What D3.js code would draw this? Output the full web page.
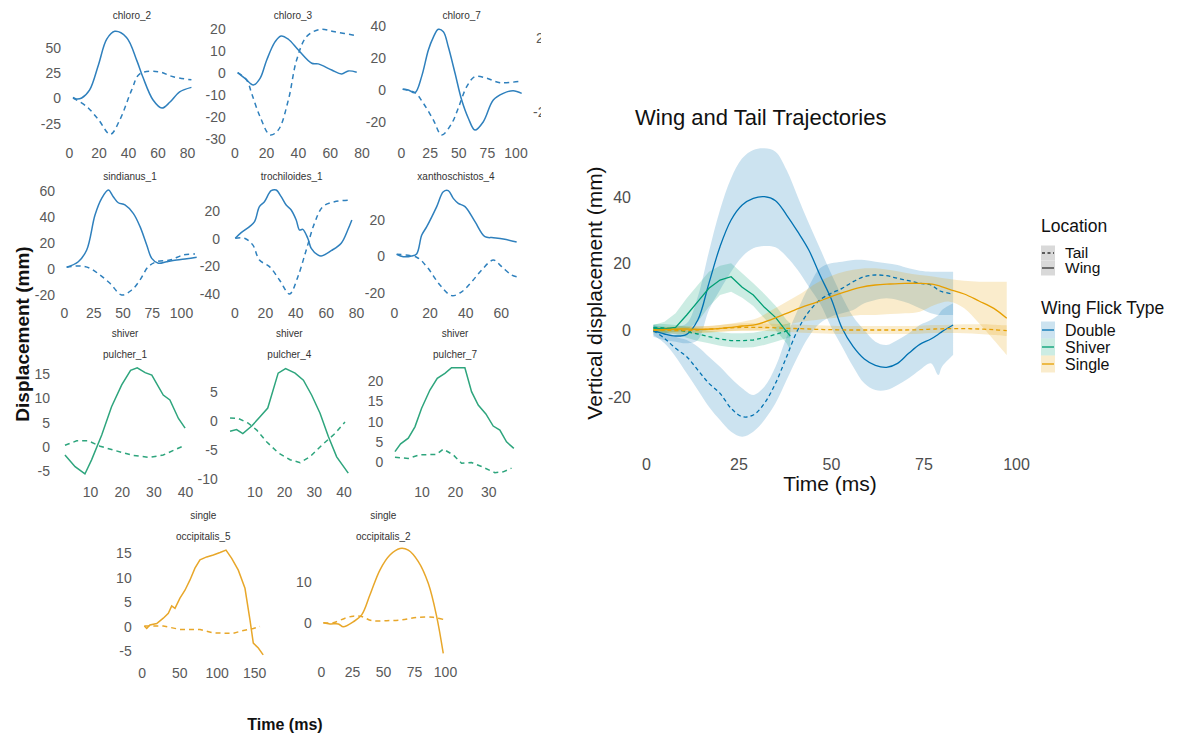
<!DOCTYPE html>
<html>
<head>
<meta charset="utf-8">
<script src="https://cdn.jsdelivr.net/npm/d3@7"></script>
<style>
body { margin: 0; background: #fff; }
svg { font-family: "Liberation Sans", Arial, sans-serif; }
</style>
</head>
<body>
<svg id="drawing_region" width="1183" height="736"></svg>
<script>
// ---- small multiples: [time (ms), displacement (mm)] ----
const chloro_2_wing = [[2.7,0.5],[5,-1],[8.6,0],[14,8],[20,33],[25.5,58],[31,66],[39,60],[46,37],[50,21],[57,-2],[63,-10],[68.5,-4],[75,6],[83,10.5]]
const chloro_2_tail = [[2.7,0],[12,-8.5],[20,-21.5],[28,-36],[34.5,-21.5],[42.5,8],[48,24],[60.5,26],[70.7,21],[83,18]]
const chloro_3_wing = [[2.1,0],[6.7,-2.6],[12,-5.6],[16.2,-2.6],[20.4,5.8],[25.6,14],[29.4,16.7],[34,15.2],[40.3,10.3],[48.7,4.3],[52.8,4],[61.3,1.2],[67.5,-0.6],[71.7,0.8],[77,0.2]]
const chloro_3_tail = [[2.1,0],[7.8,-3.3],[10.9,-9.4],[16.2,-20],[22.5,-28.3],[27.7,-26],[34,-12.4],[39.2,5.8],[45.5,16.4],[53.9,19.7],[63.3,18.6],[77,16.8]]
const chloro_7_wing = [[1.5,0],[6.4,-0.4],[12.2,-2.1],[18,7.9],[23.9,24.5],[28.2,32.4],[32.6,37.4],[37,35.9],[41.3,26.5],[47.2,10],[53,-6.7],[58.8,-18],[64.6,-25.4],[71.9,-20.2],[80.6,-6.7],[89.3,-2.5],[98,-0.9],[105.4,-2.5]]
const chloro_7_tail = [[1.5,0],[12.2,-2.1],[19.5,-8.7],[28.2,-19],[35.5,-28.4],[44.3,-21.2],[50,-11.8],[57.4,1.6],[64.6,7.9],[74.8,6.9],[86.5,4.1],[105.4,5.2]]
const sindianus_1_wing = [[2.3,0.8],[12.2,5.1],[19.4,14.2],[26.5,41.2],[32.2,54.1],[37.9,60.6],[42.1,55.4],[46.4,50.7],[52.1,49],[59.2,42.5],[65,32.2],[70.7,18],[75,7.7],[80.6,3.9],[87.8,5.1],[96.3,6.4],[104.9,7.4],[113.4,8.5]]
const sindianus_1_tail = [[2.3,0.8],[13.7,1.8],[22.2,0],[30.8,-5.2],[39.3,-11.6],[49.3,-20.6],[57.9,-16.8],[65,-9],[72,1.2],[79.2,5.1],[90.6,6.4],[102,10.3],[112,11]]
const trochiloides_1_wing = [[0.5,0],[4.4,4.1],[9.9,8.5],[13.2,12.1],[16.4,23],[19.7,26.6],[24.1,34.6],[27.4,35.1],[30.7,30.3],[34,24.2],[37.3,20.6],[40.6,13.3],[42.8,6],[44.9,6.5],[48.2,0],[50.5,-7.3],[54.8,-12.1],[57,-12.9],[63.6,-9],[70.2,-3.6],[74.5,6],[77.2,13.3]]
const trochiloides_1_tail = [[0.5,0],[6.6,0],[12,-4.8],[16.4,-15.8],[23,-20.6],[29.6,-30.3],[36.2,-40.5],[41.7,-27.9],[47.2,-8.5],[52.6,10.9],[58.1,23],[65.8,26.6],[76.8,27.9]]
const xanthoschistos_4_wing = [[1.5,0.9],[5.2,-0.4],[9.9,0],[12.7,1.1],[15.6,11.4],[18.4,16],[24,26.9],[27.7,35],[30.5,35.6],[33.3,31.4],[36.1,28.7],[39.9,26.9],[45.5,18.7],[51.1,10.5],[55.8,10],[61.4,9.3],[68.9,7.6]]
const xanthoschistos_4_tail = [[1.5,0.9],[12.7,-0.7],[18.4,-5.8],[25.8,-15.8],[32.4,-21.6],[38,-19.5],[43.7,-14],[49.3,-7.6],[55.8,-2.2],[60.5,-5.8],[66.1,-10.4],[68.9,-11.3]]
const pulcher_1_wing = [[2.1,-1.7],[5.3,-4.1],[8.4,-5.6],[10.5,-2.7],[13.7,2.4],[16.8,8.2],[20,12.7],[22.8,15.7],[24.9,16.2],[27.4,15.2],[29.5,14.7],[33.1,10.6],[35.2,9.6],[37.9,5.8],[40,3.8]]
const pulcher_1_tail = [[2.1,0.3],[5.8,1.2],[9.5,1.2],[13.2,0.1],[17.4,-0.7],[23.7,-1.8],[28.9,-2.2],[33.1,-1.7],[40,0.3]]
const pulcher_4_wing = [[1.8,-1.8],[4,-1.5],[6.1,-2.2],[9.1,-0.9],[11.9,0.7],[14.5,2.2],[18,8.2],[20.5,9],[23.7,8.2],[26.5,7],[29.3,4.4],[32.1,1.3],[34.9,-2.7],[37.7,-6.2],[41.6,-9]]
const pulcher_4_tail = [[1.8,0.5],[4.6,0.4],[7.9,-0.4],[10.8,-1.6],[14.1,-3.6],[18,-5.5],[22,-6.7],[25.4,-7.2],[28.7,-6.2],[32.7,-4.2],[37.1,-2.2],[40.5,-0.2]]
const pulcher_7_wing = [[2,2.5],[3.7,4.4],[6,5.8],[8,8.6],[10,13.2],[12.5,17.7],[14.7,20.6],[17,21.8],[19,23.2],[23,23.2],[25,17.3],[27,14],[29.3,11.8],[31.5,8.8],[33.5,7.8],[35.5,4.9],[37.7,3.3]]
const pulcher_7_tail = [[2,1.1],[6,0.8],[9.5,1.7],[14.5,1.8],[16.5,3.1],[19.5,1.7],[22,-0.4],[25,-0.2],[28,-1.2],[32,-2.7],[34.5,-2.5],[37,-1.6]]
const occipitalis_5_wing = [[3.5,0.1],[6.7,-0.4],[11,0.3],[20,0.6],[28.8,1.7],[35.5,2.7],[40,4.2],[44.4,3.7],[51,5.8],[57.7,7.4],[64.4,9.5],[71,11.9],[77.7,13.6],[86.7,14.2],[95.5,14.6],[104.4,15.1],[112.4,15.6],[120,13.9],[128.8,11.5],[137.7,7.8],[144.4,1.3],[148.8,-3.4],[155.5,-4.4],[162,-5.8]]
const occipitalis_5_tail = [[3.5,0.1],[28.8,0.1],[51,-0.6],[77.7,-0.6],[95.5,-1.3],[122,-1.4],[133.3,-0.9],[148.8,-0.4],[157.7,0]]
const occipitalis_2_wing = [[1.9,0],[7.3,-0.3],[14,-0.3],[18,-1],[26,0.2],[32.8,1.9],[39.5,6.8],[47.6,12.9],[55.6,16.5],[63.7,18.1],[70.4,17.7],[78.5,14.9],[86.5,9.6],[93.3,1.5],[98.6,-7.5]]
const occipitalis_2_tail = [[1.9,0],[9.9,0],[19.4,1.1],[26,1.6],[32.8,1.5],[40.9,0.5],[53,0.5],[65.1,0.7],[77.2,1.3],[90.6,1.3],[98.6,0.8]]

// ---- summary chart: mean and ribbon per wing flick type ----
const double_time = [2,5,8,11,14,17,20,23,26,29,32,35,38,41,44,47,50,53,56,59,62,65,68,71,74,77,79,80,83]
const double_wing = [-0.2,-1.2,-1.8,-1.3,3,14,25,33,37.5,39.5,40,38.8,34.5,29.5,24,16.5,9.5,0.5,-5,-8.7,-10.6,-11.2,-10,-7,-4.3,-2.7,-1.3,-0.5,1.5]
const double_wing_hi = [1.5,1,1,2,10,23.5,36,45.5,51.5,54,54.5,53.5,48,40,32,24.5,17,10,4,0,-3.5,-4.5,-3,-1,1.5,3,4.5,6,8]
const double_wing_lo = [-2,-3,-3.5,-4,-3,6,12,17.5,22,24.5,25.2,24.8,22,18,13,8,1,-5,-11,-16,-18,-18,-16.5,-14.5,-12,-10,-13.5,-11,-7.5]
const double_tail = [-0.2,-2.5,-5.5,-8,-12,-16,-19,-23.5,-26,-25.5,-22,-16,-8,0,5.5,9,11,12.5,14.5,16,16.5,16.3,15.5,14.8,14,13.5,12,11.5,10.8]
const double_tail_hi = [1.5,0,-2,-3,-5,-8,-11,-14.5,-17.5,-19.5,-17,-11,-2,6,13,18.5,20,20.5,21,21,20.5,20,19.5,18.5,17.8,17.5,17.5,17.5,17.5]
const double_tail_lo = [-1.5,-4,-8,-13,-18,-23,-27,-30.5,-32,-30.5,-27,-22,-15,-8,-2,2,4,5,6,8,9,9.5,9,8,6.5,5,4.5,4.5,4.5]

const shiver_time = [2,5,8,11,14,17,20,23,26,29,32,35,38,39]
const shiver_wing = [0.5,0.3,0.8,4.5,8.5,12.5,15,16,12.8,10.5,6.8,3.8,-0.5,-1.8]
const shiver_wing_hi = [1.5,2.5,5,9.5,13.5,17.5,19.3,20,17,14,10.8,7.3,3,2]
const shiver_wing_lo = [-1,-1,-0.5,0,2.5,7,10.5,11.5,9.7,7.2,3.5,0,-4,-6]
const shiver_tail = [0.8,0.6,0.2,-0.5,-1.2,-2,-2.7,-3.2,-3.2,-3,-2.3,-1.3,-0.3,0]
const shiver_tail_hi = [1.8,1.8,1.5,1,0.5,-0.2,-0.7,-1,-1,-0.8,-0.2,0.8,1.8,2.2]
const shiver_tail_lo = [-0.5,-0.8,-1.3,-2.3,-3.3,-4,-4.7,-5.2,-5.3,-5.2,-4.5,-3.5,-2.5,-2.2]

const single_time = [2,6,10,14,18,22,26,30,34,38,42,46,50,54,58,62,66,70,74,78,82,86,90,94,97.5]
const single_wing = [0,0.2,0.3,0.2,0.3,0.7,1.2,1.7,3.2,5,6.8,8.3,10,11.5,12.8,13.5,13.8,14,14,13.6,12.2,10.8,8.7,6.5,3.5]
const single_wing_hi = [0.8,1,1.2,1.2,1.3,1.8,2.5,3.5,6,8.5,11,14,16.2,17.6,18.4,18.5,18,17.2,16.5,16,15.3,14.8,14.5,14.5,14.5]
const single_wing_lo = [-0.8,-0.6,-0.6,-0.8,-0.7,-0.4,-0.1,0,0.5,1.5,2.5,3,3.5,4,4.5,4.5,4.8,5,5.5,7.5,8.5,6.5,2,-3,-7.5]
const single_tail = [0,-0.1,-0.2,0,0.3,0.6,0.8,0.8,0.7,0.5,0.4,0.2,0.1,0,0,0,0,0,0.1,0.3,0.4,0.4,0.3,0.1,-0.2]
const single_tail_hi = [0.8,0.8,0.8,1,1.3,1.7,2,2,1.9,1.7,1.6,1.4,1.3,1.2,1.2,1.2,1.2,1.2,1.3,1.5,1.6,1.7,1.7,1.6,1.4]
const single_tail_lo = [-0.8,-1,-1.2,-1,-0.7,-0.4,-0.3,-0.3,-0.4,-0.6,-0.8,-1,-1.1,-1.2,-1.2,-1.2,-1.2,-1.2,-1.1,-0.9,-0.9,-1,-1.2,-1.5,-1.8]

const flick_types = ['Double', 'Shiver', 'Single']
const locations = ['Tail', 'Wing']
const main_x_ticks = [0, 25, 50, 75, 100]
const main_y_ticks = [-20, 0, 20, 40]

const svg = d3.select('#drawing_region')

class SmallPanel{
    constructor(config, wing, tail){
        this.config = config
        this.wing = wing
        this.tail = tail
        this.init()
    }

    init(){
        let self = this
        let c = self.config
        self.chart = svg.append('g')
        self.x = d3.scaleLinear().domain([0, 100]).range([c.x0, c.x0 + 100 * c.xk])
        self.y = d3.scaleLinear().domain([0, 10]).range([c.y0, c.y0 - 10 * c.yk])
        self.line = d3.line()
            .x(d => self.x(d[0]))
            .y(d => self.y(d[1]))
            .curve(c.curve || d3.curveCatmullRom)
    }

    render(){
        let self = this
        let c = self.config

        self.chart.append('g')
            .attr('transform', `translate(0,${c.xLabelY})`)
            .call(d3.axisBottom(self.x).tickValues(c.xTicks).tickSize(0).tickPadding(0).tickFormat(d => d))
            .call(g => g.select('.domain').remove())
            .attr('font-family', null).attr('font-size', null)
            .selectAll('text')
            .attr('y', 0).attr('dy', '0.35em')
            .attr('font-size', 14).attr('fill', '#595959')

        self.chart.append('g')
            .attr('transform', `translate(${c.yLabelX},0)`)
            .call(d3.axisLeft(self.y).tickValues(c.yTicks).tickSize(0).tickPadding(0).tickFormat(d => d))
            .call(g => g.select('.domain').remove())
            .attr('font-family', null).attr('font-size', null)
            .selectAll('text')
            .attr('x', 0).attr('dy', '0.35em')
            .attr('font-size', 14).attr('fill', '#595959')

        c.titles.forEach((t, i) => {
            self.chart.append('text')
                .attr('x', c.titleX)
                .attr('y', c.titleY[i])
                .attr('text-anchor', 'middle')
                .attr('dy', '0.35em')
                .attr('font-size', 10)
                .attr('fill', '#333')
                .text(t)
        })

        self.chart.append('path')
            .attr('d', self.line(self.tail))
            .attr('fill', 'none')
            .attr('stroke', c.color)
            .attr('stroke-width', 1.5)
            .attr('stroke-dasharray', '5,4')

        self.chart.append('path')
            .attr('d', self.line(self.wing))
            .attr('fill', 'none')
            .attr('stroke', c.color)
            .attr('stroke-width', 1.5)
    }
}

class TrajectoryChart{
    constructor(config, series){
        this.config = config
        this.series = series
        this.init()
    }

    init(){
        let self = this
        let c = self.config
        self.chart = svg.append('g')
        self.x = d3.scaleLinear().domain([0, 100]).range([c.x0, c.x0 + 100 * c.xk])
        self.y = d3.scaleLinear().domain([0, 10]).range([c.y0, c.y0 - 10 * c.yk])
    }

    render(){
        let self = this
        let c = self.config

        self.chart.append('text')
            .attr('x', 635).attr('y', 117)
            .attr('dy', '0.35em')
            .attr('font-size', 22)
            .attr('fill', '#111')
            .text('Wing and Tail Trajectories')

        // ribbons
        self.series.forEach(s => {
            ['wing', 'tail'].forEach(part => {
                const area = d3.area()
                    .x((d, i) => self.x(s.time[i]))
                    .y0(d => self.y(d[0]))
                    .y1(d => self.y(d[1]))
                    .curve(s.curve)
                const pts = s[part + '_lo'].map((v, i) => [v, s[part + '_hi'][i]])
                self.chart.append('path')
                    .attr('d', area(pts))
                    .attr('fill', s.color)
                    .attr('fill-opacity', 0.2)
            })
        })

        // mean lines
        self.series.forEach(s => {
            ['tail', 'wing'].forEach(part => {
                const line = d3.line()
                    .x((d, i) => self.x(s.time[i]))
                    .y(d => self.y(d))
                    .curve(s.curve)
                self.chart.append('path')
                    .attr('d', line(s[part]))
                    .attr('fill', 'none')
                    .attr('stroke', s.color)
                    .attr('stroke-width', 1.3)
                    .attr('stroke-dasharray', part == 'tail' ? '4,3' : null)
            })
        })

        self.chart.append('g')
            .attr('transform', `translate(0,${c.xLabelY})`)
            .call(d3.axisBottom(self.x).tickValues(main_x_ticks).tickSize(0).tickPadding(0).tickFormat(d => d))
            .call(g => g.select('.domain').remove())
            .attr('font-family', null).attr('font-size', null)
            .selectAll('text')
            .attr('y', 0).attr('dy', '0.35em')
            .attr('font-size', 16).attr('fill', '#4d4d4d')

        self.chart.append('g')
            .attr('transform', `translate(${c.yLabelX},0)`)
            .call(d3.axisLeft(self.y).tickValues(main_y_ticks).tickSize(0).tickPadding(0).tickFormat(d => d))
            .call(g => g.select('.domain').remove())
            .attr('font-family', null).attr('font-size', null)
            .selectAll('text')
            .attr('x', 0).attr('dy', '0.35em')
            .attr('font-size', 16).attr('fill', '#4d4d4d')

        self.chart.append('text')
            .attr('x', 830).attr('y', 484)
            .attr('text-anchor', 'middle').attr('dy', '0.35em')
            .attr('font-size', 21).attr('fill', '#111')
            .text('Time (ms)')

        self.chart.append('text')
            .attr('transform', 'translate(595,293) rotate(-90)')
            .attr('text-anchor', 'middle').attr('dy', '0.35em')
            .attr('font-size', 21).attr('fill', '#111')
            .text('Vertical displacement (mm)')

        self.legend()
    }

    legend(){
        let self = this
        const lg = self.chart.append('g')

        lg.append('text').attr('x', 1041).attr('y', 226).attr('dy', '0.35em')
            .attr('font-size', 17.5).attr('fill', '#111').text('Location')

        locations.forEach((name, i) => {
            const cy = 253 + i * 15
            lg.append('rect').attr('x', 1041).attr('y', cy - 7.5).attr('width', 14).attr('height', 15)
                .attr('fill', '#d9d9d9')
            lg.append('line').attr('x1', 1042).attr('x2', 1054).attr('y1', cy).attr('y2', cy)
                .attr('stroke', '#333').attr('stroke-width', 1.3)
                .attr('stroke-dasharray', name == 'Tail' ? '3,2.5' : null)
            lg.append('text').attr('x', 1065).attr('y', cy).attr('dy', '0.35em')
                .attr('font-size', 15.5).attr('fill', '#111').text(name)
        })

        lg.append('text').attr('x', 1041).attr('y', 308).attr('dy', '0.35em')
            .attr('font-size', 17.5).attr('fill', '#111').text('Wing Flick Type')

        flick_types.forEach((name, i) => {
            const cy = 330 + i * 17
            const col = self.series[i].color
            lg.append('rect').attr('x', 1041).attr('y', cy - 8.5).attr('width', 14).attr('height', 17)
                .attr('fill', col).attr('fill-opacity', 0.2)
            lg.append('line').attr('x1', 1042).attr('x2', 1054).attr('y1', cy).attr('y2', cy)
                .attr('stroke', col).attr('stroke-width', 1.3)
            lg.append('text').attr('x', 1065).attr('y', cy).attr('dy', '0.35em')
                .attr('font-size', 16).attr('fill', '#111').text(name)
        })
    }
}

svg.append('defs').append('clipPath').attr('id', 'left_clip')
    .append('rect').attr('x', 0).attr('y', 0).attr('width', 541).attr('height', 736)

const blue = '#2f80bd', green = '#2ea57d', orange = '#e8a72a'

const panels = [
    [{titles: ['chloro_2'], titleX: 132, titleY: [15], x0: 69, xk: 1.475, y0: 98, yk: 1.01, xTicks: [0,20,40,60,80], yTicks: [-25,0,25,50], yLabelX: 61, xLabelY: 153, color: blue}, chloro_2_wing, chloro_2_tail],
    [{titles: ['chloro_3'], titleX: 293, titleY: [15], x0: 234.3, xk: 1.59, y0: 72.7, yk: 2.2, xTicks: [0,20,40,60,80], yTicks: [-30,-20,-10,0,10,20], yLabelX: 225.7, xLabelY: 153, color: blue}, chloro_3_wing, chloro_3_tail],
    [{titles: ['chloro_7'], titleX: 461.7, titleY: [15], x0: 401, xk: 1.145, y0: 89.3, yk: 1.605, xTicks: [0,25,50,75,100], yTicks: [-20,0,20,40], yLabelX: 386, xLabelY: 153, color: blue}, chloro_7_wing, chloro_7_tail],
    [{titles: ['sindianus_1'], titleX: 130, titleY: [176.7], x0: 64, xk: 1.17, y0: 268.3, yk: 1.293, xTicks: [0,25,50,75,100], yTicks: [-20,0,20,40,60], yLabelX: 55, xLabelY: 313.3, color: blue}, sindianus_1_wing, sindianus_1_tail],
    [{titles: ['trochiloides_1'], titleX: 291.7, titleY: [176.7], x0: 234.5, xk: 1.52, y0: 238.3, yk: 1.375, xTicks: [0,20,40,60,80], yTicks: [-40,-20,0,20], yLabelX: 220, xLabelY: 313.3, color: blue}, trochiloides_1_wing, trochiloides_1_tail],
    [{titles: ['xanthoschistos_4'], titleX: 456, titleY: [176.7], x0: 394, xk: 1.78, y0: 256, yk: 1.835, xTicks: [0,20,40,60], yTicks: [-20,0,20], yLabelX: 385, xLabelY: 313.3, color: blue}, xanthoschistos_4_wing, xanthoschistos_4_tail],
    [{titles: ['shiver', 'pulcher_1'], titleX: 125, titleY: [333.3, 354.3], x0: 58.3, xk: 3.17, y0: 446.7, yk: 4.87, xTicks: [10,20,30,40], yTicks: [-5,0,5,10,15], yLabelX: 50, xLabelY: 491.7, color: green, curve: d3.curveLinear}, pulcher_1_wing, pulcher_1_tail],
    [{titles: ['shiver', 'pulcher_4'], titleX: 289.3, titleY: [333.3, 354.3], x0: 224.7, xk: 2.97, y0: 420.8, yk: 5.81, xTicks: [10,20,30,40], yTicks: [-10,-5,0,5], yLabelX: 217.7, xLabelY: 491.7, color: green, curve: d3.curveLinear}, pulcher_4_wing, pulcher_4_tail],
    [{titles: ['shiver', 'pulcher_7'], titleX: 455, titleY: [333.3, 354.3], x0: 388.3, xk: 3.33, y0: 461.7, yk: 4.05, xTicks: [10,20,30], yTicks: [0,5,10,15,20], yLabelX: 383.3, xLabelY: 491.7, color: green, curve: d3.curveLinear}, pulcher_7_wing, pulcher_7_tail],
    [{titles: ['single', 'occipitalis_5'], titleX: 203.3, titleY: [515, 536], x0: 141.7, xk: 0.75, y0: 626.5, yk: 4.9, xTicks: [0,50,100,150], yTicks: [-5,0,5,10,15], yLabelX: 131.7, xLabelY: 672.7, color: orange, curve: d3.curveLinear}, occipitalis_5_wing, occipitalis_5_tail],
    [{titles: ['single', 'occipitalis_2'], titleX: 383.3, titleY: [515, 536], x0: 321, xk: 1.24, y0: 622.7, yk: 4.1, xTicks: [0,25,50,75,100], yTicks: [0,10], yLabelX: 311.7, xLabelY: 671.7, color: orange}, occipitalis_2_wing, occipitalis_2_tail]
]

panels.forEach(p => {
    const panel = new SmallPanel(p[0], p[1], p[2])
    panel.render()
})

// cut-off labels of the next column, as in the source collage
svg.append('g').attr('clip-path', 'url(#left_clip)')
    .selectAll('text').data(['20', '-20']).enter()
    .append('text')
    .attr('x', (d, i) => i == 0 ? 536 : 533)
    .attr('y', (d, i) => i == 0 ? 38 : 112)
    .attr('dy', '0.35em')
    .attr('font-size', 14).attr('fill', '#595959')
    .text(d => d)

svg.append('text')
    .attr('transform', 'translate(22,334) rotate(-90)')
    .attr('text-anchor', 'middle').attr('dy', '0.35em')
    .attr('font-size', 19).attr('font-weight', 'bold').attr('fill', '#111')
    .text('Displacement (mm)')

svg.append('text')
    .attr('x', 285).attr('y', 724)
    .attr('text-anchor', 'middle').attr('dy', '0.35em')
    .attr('font-size', 16).attr('font-weight', 'bold').attr('fill', '#111')
    .text('Time (ms)')

const series = [
    {time: double_time, wing: double_wing, wing_lo: double_wing_lo, wing_hi: double_wing_hi, tail: double_tail, tail_lo: double_tail_lo, tail_hi: double_tail_hi, color: '#0072B2', curve: d3.curveCatmullRom},
    {time: shiver_time, wing: shiver_wing, wing_lo: shiver_wing_lo, wing_hi: shiver_wing_hi, tail: shiver_tail, tail_lo: shiver_tail_lo, tail_hi: shiver_tail_hi, color: '#009E73', curve: d3.curveLinear},
    {time: single_time, wing: single_wing, wing_lo: single_wing_lo, wing_hi: single_wing_hi, tail: single_tail, tail_lo: single_tail_lo, tail_hi: single_tail_hi, color: '#E69F00', curve: d3.curveCatmullRom}
]

const main_chart = new TrajectoryChart({x0: 646, xk: 3.7, y0: 330, yk: 3.333, yLabelX: 631, xLabelY: 464}, series)
main_chart.render()
</script>
</body>
</html>
